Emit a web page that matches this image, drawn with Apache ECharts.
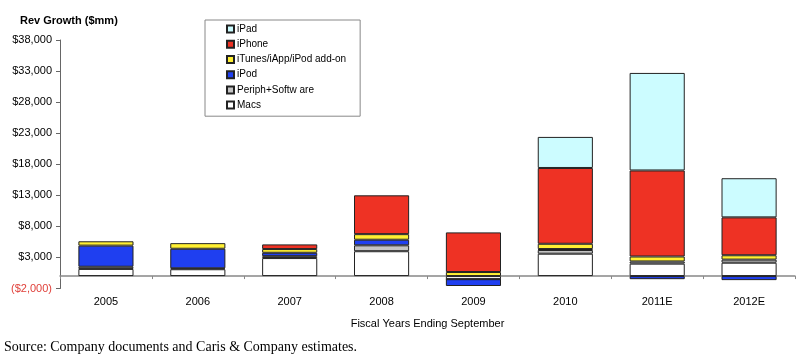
<!DOCTYPE html>
<html><head><meta charset="utf-8">
<script src="https://cdn.jsdelivr.net/npm/echarts@6/dist/echarts.min.js"></script>
<style>html,body{margin:0;padding:0;background:#fff}#c{width:798px;height:357px}</style>
</head><body><div id="c"></div>
<script>
const categories = ['2005','2006','2007','2008','2009','2010','2011E','2012E'];
const macs   = [1150, 1100, 2900, 4000, -500, 3600, 2000, 2150];
const periph = [350, 150, 300, 950, 0, 600, 350, 500];
const ipod   = [3400, 3150, 550, 900, -1100, 150, -500, -650];
const itunes = [700, 900, 600, 900, 650, 850, 800, 700];
const iphone = [null, null, 750, 6250, 6380, 12200, 13850, 6100];
const ipad   = [null, null, null, null, null, 5000, 15700, 6300];
const yMin = -2000, yMax = 38000, yStep = 5000;

const FONT = '"Liberation Sans", Arial, sans-serif';
function fmt(n){ return n.toString().replace(/\B(?=(\d{3})+(?!\d))/g, ','); }

function mk(name, data, color){
  return {
    name, type: 'bar', stack: 'rev', data, barWidth: '60%',
    itemStyle: { color, borderColor: '#222', borderWidth: 1 },
    emphasis: { disabled: true }
  };
}

const chart = echarts.init(document.getElementById('c'), null, {renderer: 'canvas'});
chart.setOption({
  animation: false,
  backgroundColor: '#fff',
  title: {
    text: 'Rev Growth ($mm)', left: 15, top: 10,
    textStyle: { fontFamily: FONT, fontSize: 11, fontWeight: 'bold', color: '#000' }
  },
  legend: {
    orient: 'vertical', left: 205, top: 20,
    data: ['iPad', 'iPhone', 'iTunes/iApp/iPod add-on', 'iPod', 'Periph+Softw are', 'Macs'],
    icon: 'rect',
    itemWidth: 7, itemHeight: 7, itemGap: 3,
    padding: [3, 14, 5, 21],
    borderColor: '#888', borderWidth: 1,
    textStyle: { fontFamily: FONT, fontSize: 10, color: '#000', lineHeight: 12.2, padding: [0,0,0,-2] },
    selectedMode: false
  },
  grid: { left: 60, right: 3, top: 40, bottom: 68.5, containLabel: false },
  xAxis: {
    type: 'category', data: categories,
    axisLine: { onZero: true, lineStyle: { color: '#888', width: 1.5 } },
    axisTick: { show: true, length: 3, lineStyle: { color: '#888' } },
    axisLabel: { margin: 8, fontFamily: FONT, fontSize: 11, color: '#000' },
    name: 'Fiscal Years Ending September', nameLocation: 'middle', nameGap: 30,
    nameTextStyle: { fontFamily: FONT, fontSize: 11, color: '#000' }
  },
  yAxis: {
    type: 'value', min: yMin, max: yMax, interval: yStep,
    axisLine: { show: true, lineStyle: { color: '#666', width: 1 } },
    axisTick: { show: true, length: 4, lineStyle: { color: '#666' } },
    splitLine: { show: false },
    axisLabel: {
      fontFamily: FONT, fontSize: 11, color: '#000', margin: 8,
      formatter: v => v < 0 ? '{neg|($' + fmt(-v) + ')}' : '$' + fmt(v),
      rich: { neg: { color: '#e0403a', fontFamily: FONT, fontSize: 11 } }
    }
  },
  graphic: [{
    type: 'text', left: 4, top: 340,
    style: { text: 'Source: Company documents and Caris & Company estimates.',
             font: '14px "Liberation Serif", "Times New Roman", serif', fill: '#000' }
  }],
  series: [
    mk('Macs', macs, '#ffffff'),
    mk('Periph+Softw are', periph, '#c4c4c4'),
    mk('iPod', ipod, '#1f3ff0'),
    mk('iTunes/iApp/iPod add-on', itunes, '#fff033'),
    mk('iPhone', iphone, '#ee3224'),
    mk('iPad', ipad, '#ccfcff')
  ]
});
</script></body></html>
